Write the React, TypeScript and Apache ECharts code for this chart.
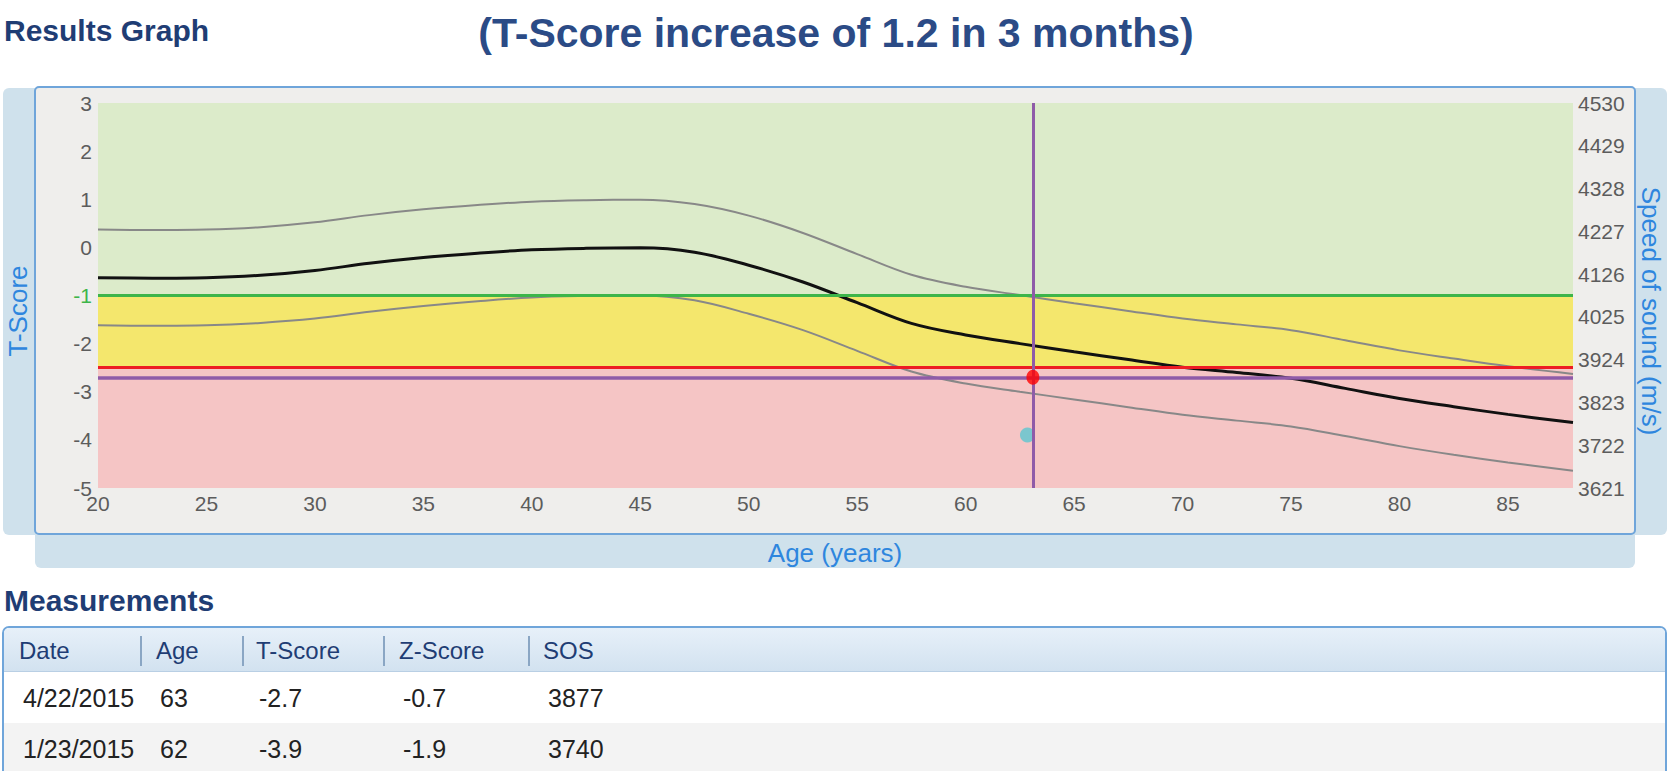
import React, { useEffect, useRef } from "react";
import * as echarts from "echarts";

// ---- Data ----
const ages = [20, 22.5, 25, 27.5, 30, 32.5, 35, 37.5, 40, 42.5, 45, 47.5, 50, 52.5, 55, 57.5, 60, 62.5, 65, 67.5, 70, 72.5, 75, 77.5, 80, 82.5, 85, 88];
const meanT = [-0.63, -0.64, -0.63, -0.58, -0.48, -0.33, -0.21, -0.12, -0.05, -0.02, -0.01, -0.1, -0.37, -0.72, -1.15, -1.58, -1.82, -2.0, -2.17, -2.33, -2.49, -2.6, -2.72, -2.93, -3.14, -3.31, -3.47, -3.64];
const upperT = [0.37, 0.36, 0.37, 0.42, 0.52, 0.67, 0.79, 0.88, 0.95, 0.98, 0.99, 0.9, 0.66, 0.3, -0.14, -0.57, -0.82, -0.99, -1.16, -1.32, -1.48, -1.6, -1.72, -1.93, -2.14, -2.31, -2.47, -2.63];
const lowerT = [-1.62, -1.63, -1.62, -1.57, -1.48, -1.34, -1.22, -1.12, -1.04, -1.01, -1.0, -1.1, -1.38, -1.72, -2.15, -2.58, -2.83, -3.0, -3.16, -3.32, -3.48, -3.6, -3.72, -3.92, -4.13, -4.31, -4.47, -4.64];

const sosTicks = [3621, 3722, 3823, 3924, 4025, 4126, 4227, 4328, 4429, 4530];

const zoneTop = [3, -1, -2.5];
const zoneBottom = [-1, -2.5, -5];
const thresholds = [-1, -2.5];

const measDates = ["4/22/2015", "1/23/2015"];
const measAges = [63, 62];
const measPlotAges = [63.1, 62.85];
const measT = [-2.7, -3.9];
const measZ = [-0.7, -1.9];
const measSOS = [3877, 3740];

const tableHeaders = ["Date", "Age", "T-Score", "Z-Score", "SOS"];

const mainTitle = "(T-Score increase of 1.2 in 3 months)";

// ---- Styling ----
const FONT = '"Liberation Sans", Arial, Helvetica, sans-serif';
const zoneColors = ["#dcebca", "#f4e76d", "#f5c5c5"];
const thresholdColors = ["#3db54a", "#ed1c24"];
const PURPLE = "#8f5ba8";
const NAVY = "#1f3d74";
const AXIS_BLUE = "#2e86de";
const BAND = "#cfe1ec";
const BORDER = "#6fa5da";
const TICK = "#5c5c5c";

export default function App() {
  const ref = useRef<HTMLDivElement>(null);

  useEffect(() => {
    document.body.style.margin = "0";
    const chart = echarts.init(ref.current!, null, { renderer: "svg" });

    const curve = (vals: number[], color: string, width: number) => ({
      type: "line",
      data: ages.map((a, i) => [a, vals[i]]),
      smooth: 0.35,
      showSymbol: false,
      symbol: "none",
      silent: true,
      z: 3,
      lineStyle: { color, width },
    });

    const txt = (
      text: string,
      x: number,
      y: number,
      size: number,
      color: string,
      opts: any = {}
    ) => ({
      type: "text",
      x,
      y,
      z: 10,
      rotation: opts.rotation || 0,
      silent: true,
      style: {
        text,
        fontSize: size,
        fontFamily: FONT,
        fontWeight: opts.bold ? "bold" : "normal",
        fill: color,
        align: opts.align || "left",
        textAlign: opts.align || "left",
        verticalAlign: "middle",
        textVerticalAlign: "middle",
      },
    });

    const headerX = [19, 156, 256, 399, 543];
    const cellX = [23, 160, 259, 403, 548];
    const sepX = [141, 243, 384, 529];
    const rowY = [698, 749];

    const rows = measDates.map((d, i) => [
      d,
      String(measAges[i]),
      measT[i].toFixed(1),
      measZ[i].toFixed(1),
      String(measSOS[i]),
    ]);

    const graphics: any[] = [
      // frame bands
      { type: "rect", z: -10, shape: { x: 3, y: 88, width: 45, height: 447, r: 6 }, style: { fill: BAND } },
      { type: "rect", z: -10, shape: { x: 1620, y: 88, width: 47, height: 447, r: 6 }, style: { fill: BAND } },
      { type: "rect", z: -10, shape: { x: 35, y: 520, width: 1600, height: 48, r: 6 }, style: { fill: BAND } },
      { type: "rect", z: -9, shape: { x: 35, y: 87, width: 1600, height: 447, r: 4 }, style: { fill: "#efeeec", stroke: BORDER, lineWidth: 2 } },
      // headings
      txt("Results Graph", 4, 30, 30, NAVY, { bold: true }),
      txt(mainTitle, 836, 33, 41, "#2b4b86", { bold: true, align: "center" }),
      txt("T-Score", 18, 311, 26, AXIS_BLUE, { align: "center", rotation: Math.PI / 2 }),
      txt("Speed of sound (m/s)", 1651, 311, 26, AXIS_BLUE, { align: "center", rotation: -Math.PI / 2 }),
      txt("Age (years)", 835, 553, 26, AXIS_BLUE, { align: "center" }),
      txt("Measurements", 4, 600, 30, NAVY, { bold: true }),
      // table
      { type: "rect", z: -10, shape: { x: 3, y: 627, width: 1663, height: 160, r: [6, 6, 0, 0] }, style: { fill: "#ffffff", stroke: BORDER, lineWidth: 2 } },
      {
        type: "rect",
        z: -9,
        shape: { x: 4, y: 628, width: 1661, height: 43, r: [5, 5, 0, 0] },
        style: {
          fill: new echarts.graphic.LinearGradient(0, 0, 0, 1, [
            { offset: 0, color: "#e7f0f9" },
            { offset: 1, color: "#d2e2f0" },
          ]),
        },
      },
      { type: "rect", z: -9, shape: { x: 4, y: 671, width: 1661, height: 1 }, style: { fill: "#b9cfe4" } },
      { type: "rect", z: -9, shape: { x: 4, y: 723, width: 1661, height: 60 }, style: { fill: "#f3f3f3" } },
      ...sepX.map((x) => ({
        type: "line",
        z: -8,
        shape: { x1: x, y1: 636, x2: x, y2: 666 },
        style: { stroke: "#8aa6c4", lineWidth: 2 },
      })),
      ...tableHeaders.map((h, i) => txt(h, headerX[i], 650, 24, NAVY)),
      ...rows.flatMap((r, ri) => r.map((c, ci) => txt(c, cellX[ci], rowY[ri], 25, "#222222"))),
    ];

    const option: any = {
      animation: false,
      backgroundColor: "#ffffff",
      textStyle: { fontFamily: FONT },
      grid: { left: 98, top: 103, width: 1475, height: 385, containLabel: false },
      xAxis: {
        type: "value",
        min: 20,
        max: 88,
        interval: 5,
        axisLine: { show: false },
        axisTick: { show: false },
        splitLine: { show: false },
        axisLabel: {
          color: TICK,
          fontSize: 21,
          fontFamily: FONT,
          margin: 5,
          formatter: (v: number) => (v % 5 === 0 ? String(v) : ""),
        },
      },
      yAxis: [
        {
          type: "value",
          min: -5,
          max: 3,
          interval: 1,
          position: "left",
          axisLine: { show: false },
          axisTick: { show: false },
          splitLine: { show: false },
          axisLabel: {
            fontSize: 21,
            fontFamily: FONT,
            margin: 6,
            color: (v: any) => (Number(v) === thresholds[0] ? thresholdColors[0] : TICK),
          },
        },
        {
          type: "value",
          min: 0,
          max: sosTicks.length - 1,
          interval: 1,
          position: "right",
          axisLine: { show: false },
          axisTick: { show: false },
          splitLine: { show: false },
          axisLabel: {
            fontSize: 21,
            fontFamily: FONT,
            margin: 5,
            color: TICK,
            formatter: (v: number) => String(sosTicks[Math.round(v)] ?? ""),
          },
        },
      ],
      graphic: { elements: graphics },
      series: [
        {
          type: "line",
          data: [],
          z: 1,
          silent: true,
          markArea: {
            silent: true,
            data: zoneTop.map((t, i) => [
              { yAxis: t, itemStyle: { color: zoneColors[i] } },
              { yAxis: zoneBottom[i] },
            ]),
          },
        },
        {
          type: "line",
          data: [],
          z: 2,
          silent: true,
          markLine: {
            silent: true,
            symbol: ["none", "none"],
            label: { show: false },
            data: [
              ...thresholds.map((t, i) => ({ yAxis: t, lineStyle: { color: thresholdColors[i], width: 3, type: "solid" } })),
              { yAxis: measT[0], lineStyle: { color: PURPLE, width: 3.5, type: "solid" } },
            ],
          },
        },
        curve(upperT, "#888888", 2),
        curve(lowerT, "#888888", 2),
        curve(meanT, "#111111", 3),
        {
          type: "scatter",
          data: [[measPlotAges[1], measT[1]]],
          symbolSize: 15,
          z: 4,
          silent: true,
          itemStyle: { color: "#5cc6cf" },
        },
        {
          type: "line",
          data: [],
          z: 5,
          silent: true,
          markLine: {
            silent: true,
            symbol: ["none", "none"],
            label: { show: false },
            data: [{ xAxis: measPlotAges[0], lineStyle: { color: PURPLE, width: 3, type: "solid" } }],
          },
        },
        {
          type: "scatter",
          data: [[measPlotAges[0], measT[0]]],
          symbolSize: [13, 15],
          z: 6,
          silent: true,
          itemStyle: { color: "#ff0000" },
        },
      ],
    };

    chart.setOption(option);
    return () => chart.dispose();
  }, []);

  return <div ref={ref} style={{ position: "absolute", left: 0, top: 0, width: 1671, height: 771 }} />;
}
